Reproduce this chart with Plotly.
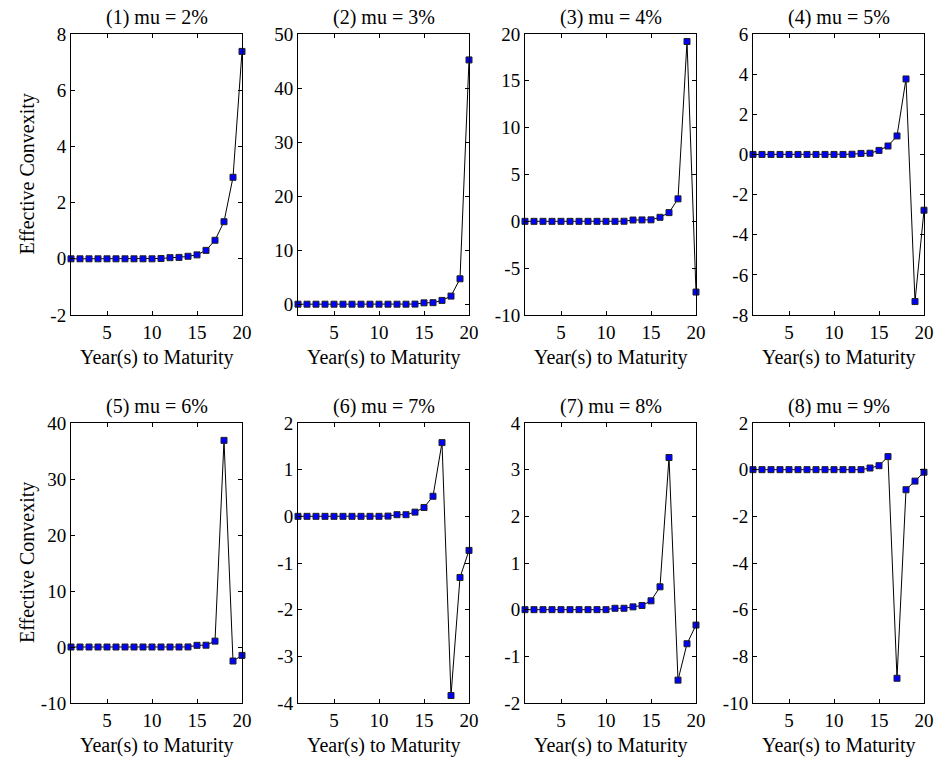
import plotly.graph_objects as go

years = list(range(1, 21))
titles = ["(1) mu = 2%", "(2) mu = 3%", "(3) mu = 4%", "(4) mu = 5%",
          "(5) mu = 6%", "(6) mu = 7%", "(7) mu = 8%", "(8) mu = 9%"]
x_label = "Year(s) to Maturity"
y_label = "Effective Convexity"

conv_mu2 = [0, 0, 0, 0, 0, 0, 0, 0, 0, 0, 0.01, 0.04, 0.05, 0.09, 0.14, 0.30, 0.66, 1.32, 2.90, 7.38]
conv_mu3 = [0, 0, 0, 0, 0, 0, 0, 0, 0, 0, 0, 0, 0, 0.02, 0.25, 0.28, 0.70, 1.50, 4.70, 45.2]
conv_mu4 = [0, 0, 0, 0, 0, 0, 0, 0, 0, 0, 0, 0.01, 0.14, 0.15, 0.16, 0.43, 0.93, 2.40, 19.2, -7.55]
conv_mu5 = [0, 0, 0, 0, 0, 0, 0, 0, 0, 0, 0, 0.01, 0.05, 0.06, 0.20, 0.42, 0.92, 3.76, -7.33, -2.78]
conv_mu6 = [0, 0, 0, 0, 0, 0, 0, 0, 0, 0, 0, 0, 0, 0.01, 0.30, 0.32, 1.05, 36.9, -2.5, -1.5]
conv_mu7 = [0, 0, 0, 0, 0, 0, 0, 0, 0, 0, 0.005, 0.035, 0.035, 0.09, 0.19, 0.43, 1.58, -3.84, -1.31, -0.73]
conv_mu8 = [0, 0, 0, 0, 0, 0, 0, 0, 0, 0, 0.03, 0.03, 0.06, 0.09, 0.19, 0.49, 3.26, -1.51, -0.73, -0.33]
conv_mu9 = [0, 0, 0, 0, 0, 0, 0, 0, 0, 0, 0, 0, 0, 0.07, 0.17, 0.56, -8.94, -0.86, -0.49, -0.11]

series = [conv_mu2, conv_mu3, conv_mu4, conv_mu5, conv_mu6, conv_mu7, conv_mu8, conv_mu9]
y_ranges = [[-2, 8], [-2, 50], [-10, 20], [-8, 6], [-10, 40], [-4, 2], [-2, 4], [-10, 2]]
y_tickvals = [
    [-2, 0, 2, 4, 6, 8],
    [0, 10, 20, 30, 40, 50],
    [-10, -5, 0, 5, 10, 15, 20],
    [-8, -6, -4, -2, 0, 2, 4, 6],
    [-10, 0, 10, 20, 30, 40],
    [-4, -3, -2, -1, 0, 1, 2],
    [-2, -1, 0, 1, 2, 3, 4],
    [-10, -8, -6, -4, -2, 0, 2],
]
x_ticks = [5, 10, 15, 20]

W, H = 938, 760
lefts = [71, 298, 525, 753]
width = 171
rows = [(34, 315), (423, 703)]

FONT = "Liberation Serif"
FS_TICK = 19
FS_TEXT = 20

fig = go.Figure()
annotations = []
for i, vals in enumerate(series):
    r, c = divmod(i, 4)
    xa = "x" if i == 0 else f"x{i+1}"
    ya = "y" if i == 0 else f"y{i+1}"
    fig.add_trace(go.Scatter(
        x=years, y=vals, xaxis=xa, yaxis=ya, mode="lines+markers",
        line=dict(color="black", width=1),
        marker=dict(symbol="square", size=6, color="#0000ff",
                    line=dict(color="#222222", width=1)),
        cliponaxis=False, showlegend=False, hoverinfo="x+y"))
    x0 = lefts[c] / W
    x1 = (lefts[c] + width) / W
    top, bot = rows[r]
    y0 = 1 - bot / H
    y1 = 1 - top / H
    axis_common = dict(showline=True, linecolor="black", linewidth=1, mirror="ticks",
                       ticks="inside", ticklen=4, tickcolor="black", showgrid=False,
                       zeroline=False, automargin=False,
                       tickfont=dict(family=FONT, size=FS_TICK, color="black"))
    xkey = "xaxis" if i == 0 else f"xaxis{i+1}"
    ykey = "yaxis" if i == 0 else f"yaxis{i+1}"
    tv = y_tickvals[i]
    fig.update_layout({
        xkey: dict(domain=[x0, x1], range=[1, 20], tickvals=x_ticks, anchor=ya,
                   **axis_common),
        ykey: dict(domain=[y0, y1], range=y_ranges[i], tickvals=tv,
                   ticktext=[str(v) for v in tv], anchor=xa,
                   **axis_common),
    })
    # subplot title
    annotations.append(dict(text=titles[i], x=(x0 + x1) / 2, y=y1, xref="paper", yref="paper",
                            xanchor="center", yanchor="middle", yshift=17, showarrow=False,
                            font=dict(family=FONT, size=FS_TEXT, color="black")))
    # x-axis label
    annotations.append(dict(text=x_label, x=(x0 + x1) / 2, y=y0, xref="paper", yref="paper",
                            xanchor="center", yanchor="middle", yshift=-42, showarrow=False,
                            font=dict(family=FONT, size=FS_TEXT, color="black")))
    # y-axis label (first column only)
    if c == 0:
        annotations.append(dict(text=y_label, x=27 / W, y=(y0 + y1) / 2, xref="paper", yref="paper",
                                xanchor="center", yanchor="middle", textangle=-90, showarrow=False,
                                font=dict(family=FONT, size=FS_TEXT, color="black")))

fig.update_layout(width=W, height=H, margin=dict(l=0, r=0, t=0, b=0, autoexpand=False),
                  paper_bgcolor="white", plot_bgcolor="white",
                  font=dict(family=FONT, size=FS_TICK, color="black"),
                  annotations=annotations)
fig.write_html("out.html")
